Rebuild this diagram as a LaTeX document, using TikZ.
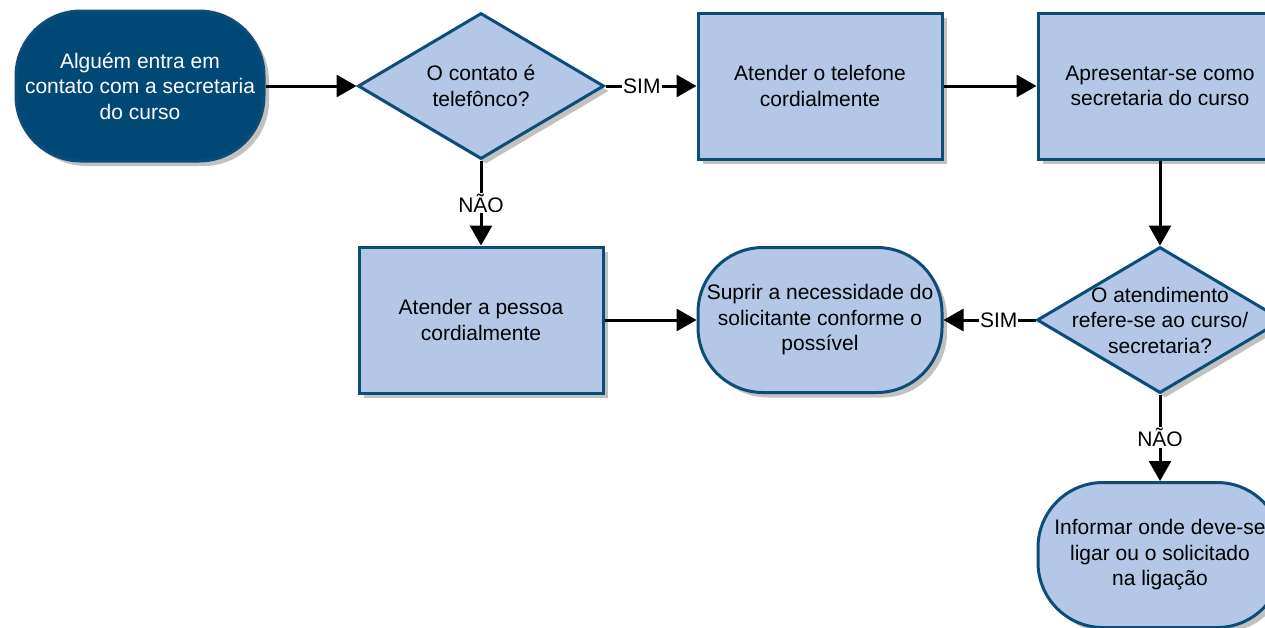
\documentclass[tikz,border=0pt]{standalone}
\usepackage{fontspec}
\setmainfont{Liberation Sans}
\usetikzlibrary{shapes.geometric,arrows.meta,shadows}
\definecolor{darkblue}{RGB}{0,73,118}
\definecolor{edgeblue}{RGB}{14,76,120}
\definecolor{lightfill}{RGB}{180,199,231}
\begin{document}
\begin{tikzpicture}[x=1pt,y=-1pt,
  base/.style={draw=edgeblue, line width=3pt, fill=lightfill, align=center,
    font=\fontsize{21}{25.5}\selectfont, inner sep=0pt,
    drop shadow={shadow xshift=5pt, shadow yshift=-5pt, opacity=0.35, fill=black!70}},
  proc/.style={base, rectangle, minimum width=244pt, minimum height=146pt},
  term/.style={base, rectangle, rounded corners=65pt, minimum width=244pt, minimum height=145pt},
  dec/.style={base, diamond, shape aspect=1.68, inner sep=-20pt, minimum width=246pt, minimum height=146pt},
  arr/.style={line width=3pt, -{Triangle[length=20pt,width=22pt]}},
  lbl/.style={fill=white, inner sep=1pt, font=\fontsize{21}{25}\selectfont}
]
\useasboundingbox (0,0) rectangle (1265,627);
\clip (0,0) rectangle (1265,627);

\node[term, fill=darkblue, text=white, minimum width=248pt, minimum height=150pt] (start) at (140,86)
  {Alguém entra em\\contato com a secretaria\\do curso};
\node[dec] (d1) at (481,86) {O contato é\\telefônco?};
\node[proc] (b1) at (820,86) {Atender o telefone\\cordialmente};
\node[proc] (b2) at (1160,86) {Apresentar-se como\\secretaria do curso};
\node[dec] (d2) at (1160,320) {O atendimento\\refere-se ao curso/\\secretaria?};
\node[term] (t2) at (820,320) {Suprir a necessidade do\\solicitante conforme o\\possível};
\node[proc] (b3) at (481,320) {Atender a pessoa\\cordialmente};
\node[term] (t3) at (1160,555) {Informar onde deve-se\\ligar ou o solicitado\\na ligação};

\draw[arr] (start.east) -- (d1.west);
\draw[arr] (d1.east) -- node[lbl,pos=0.4] {SIM} (b1.west);
\draw[arr] (b1.east) -- (b2.west);
\draw[arr] (b2.south) -- (d2.north);
\draw[arr] (d2.west) -- node[lbl,pos=0.4] {SIM} (t2.east);
\draw[arr] (d1.south) -- node[lbl] {NÃO} (b3.north);
\draw[arr] (b3.east) -- (t2.west);
\draw[arr] (d2.south) -- node[lbl] {NÃO} (t3.north);
\end{tikzpicture}
\end{document}
